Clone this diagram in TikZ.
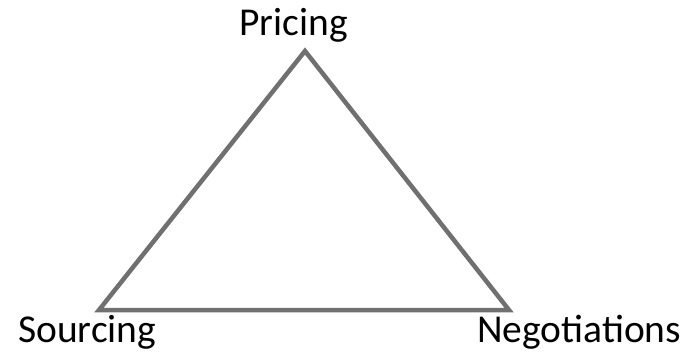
\documentclass[tikz,border=0pt]{standalone}
\usepackage{fontspec}
\setmainfont{Carlito}
\definecolor{TriGray}{HTML}{707070}
\usetikzlibrary{positioning}

\begin{document}
\begin{tikzpicture}[x=1bp, y=-1bp, font=\fontsize{39.5bp}{44bp}\selectfont]
      \useasboundingbox (0,0) rectangle (687,354);
      \coordinate (p) at (305,51);
      \coordinate (s) at (99,310);
      \coordinate (n) at (509,310);
      \node[anchor=base, inner sep=0pt] (pl) at (293.5,35) {Pricing};
      \node[anchor=base west, inner sep=0pt] (sl) at (18,342) {Sourcing};
      \node[anchor=base west, inner sep=0pt] (nl) at (477,342) {Negotiations};
      \draw[TriGray, line width=4.5bp, line join=miter] (p)--(n)--(s)--cycle;
    \end{tikzpicture}
\end{document}
